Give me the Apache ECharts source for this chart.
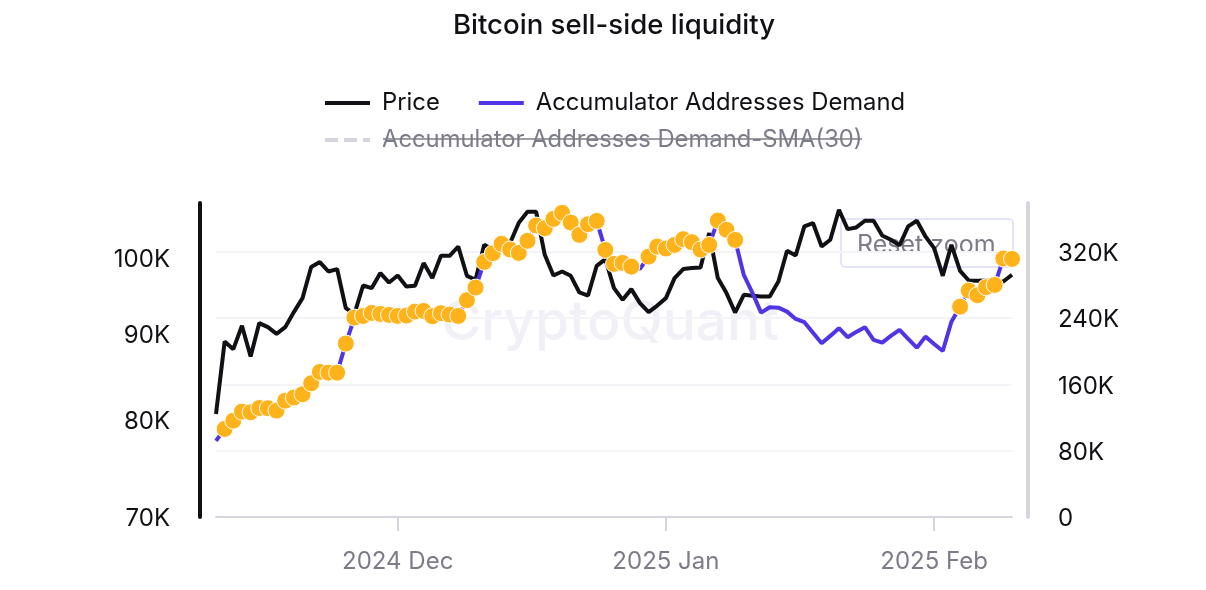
<!DOCTYPE html>
<html>
<head>
<meta charset="utf-8">
<style>
  html, body { margin: 0; padding: 0; background: #fff; }
  #main { width: 1206px; height: 590px; }
</style>
<script src="https://cdn.jsdelivr.net/npm/echarts@6/dist/echarts.min.js"></script>
</head>
<body>
<div id="main"></div>
<script>
// daily closes, thousands of USD, 10 Nov 2024 onwards
var priceK = [
  80.66, 89.10, 88.17, 91.05, 87.28, 91.39, 90.88, 90.05, 90.88, 92.78,
  94.58, 98.71, 99.39, 98.11, 98.44, 93.29, 92.56, 96.24, 95.90, 97.90,
  96.63, 97.57, 96.10, 96.20, 99.25, 97.22, 100.25, 100.25, 101.54, 97.53,
  97.00, 101.78, 101.08, 101.36, 102.07, 104.91, 106.51, 106.51, 100.39, 97.57,
  98.11, 97.53, 95.32, 94.92, 98.88, 99.80, 95.90, 94.36, 95.76, 93.93,
  92.78, 93.62, 94.58, 97.22, 98.44, 98.57, 98.65, 103.44, 97.22, 95.24,
  92.73, 95.01, 94.88, 94.79, 94.79, 96.77, 100.95, 100.30, 104.38, 104.87,
  101.54, 102.49, 106.81, 104.00, 104.24, 105.20, 105.20, 103.09, 102.49, 101.69,
  104.38, 105.20, 102.95, 101.32, 97.53, 101.78, 98.20, 96.90, 96.87, 96.90,
  96.77, 96.77, 97.67
];
var demandK = [
  91.8, 106.3, 116.3, 127.2, 126.4, 131.6, 131.3, 128.4, 140.4, 144.1,
  148.2, 161.4, 175.1, 174.2, 174.2, 209.3, 240.7, 242.7, 246.3, 245.1,
  243.9, 242.7, 243.1, 247.9, 248.7, 242.3, 246.0, 244.3, 242.7, 261.7,
  276.9, 307.9, 318.4, 329.7, 322.8, 318.8, 333.3, 351.8, 348.6, 359.8,
  367.1, 355.4, 340.5, 353.4, 357.4, 322.4, 305.5, 306.7, 302.2, 299.5,
  314.3, 326.4, 324.0, 328.4, 335.3, 331.7, 322.8, 328.4, 357.8, 346.6,
  334.5, 292.2, 270.5, 246.7, 253.2, 252.7, 247.9, 239.1, 235.1, 222.4,
  209.7, 218.6, 227.9, 217.0, 223.4, 229.1, 213.7, 210.5, 218.6, 225.8,
  214.9, 204.4, 217.7, 208.9, 200.4, 235.8, 253.9, 273.3, 267.7, 277.4,
  280.1, 311.9, 311.5
];
// days carrying an orange marker, first and last index of each run
var markedRuns = [[1, 48], [50, 60], [86, 92]];
var leftTicks = [70000, 80000, 90000, 100000];
var monthNames = ['Jan', 'Feb', 'Mar', 'Apr', 'May', 'Jun', 'Jul', 'Aug', 'Sep', 'Oct', 'Nov', 'Dec'];

var dates = [];
for (var d = 0; d < priceK.length; d++) {
  dates.push(new Date(Date.UTC(2024, 10, 10 + d)).toISOString().slice(0, 10));
}

var markers = [];
markedRuns.forEach(function (run) {
  for (var i = run[0]; i <= run[1]; i++) {
    markers.push([dates[i], demandK[i] * 1000]);
  }
});

function isMonthStart(i, val) {
  return val.slice(8) === '01';
}

var FONT = 'Inter';
// nudges the y labels a little below their tick
var yLabelRich = { t: { fontFamily: FONT, fontSize: 24, color: '#111115', padding: [4, 0, 0, 0] } };
var myChart = echarts.init(document.getElementById('main'));

var option = {
  animation: false,
  textStyle: { fontFamily: FONT },
  title: {
    text: 'Bitcoin sell-side liquidity',
    left: 609,
    top: 7,
    textAlign: 'center',
    textStyle: { fontFamily: FONT, fontSize: 27.6, fontWeight: 500, color: '#111115' }
  },
  legend: [
    {
      left: 318,
      top: 86,
      itemWidth: 45,
      itemHeight: 28,
      itemGap: 37,
      selectedMode: false,
      itemStyle: { opacity: 0 },
      lineStyle: { width: 4 },
      textStyle: { fontFamily: FONT, fontSize: 23.8, color: '#111115', padding: [0, 0, 0, 7] },
      data: ['Price', 'Accumulator Addresses Demand']
    },
    {
      left: 318,
      top: 123,
      itemWidth: 45,
      itemHeight: 28,
      selectedMode: false,
      itemStyle: { opacity: 0 },
      lineStyle: { width: 4 },
      textStyle: { fontFamily: FONT, fontSize: 23.8, color: '#7c7c88', padding: [0, 0, 0, 7] },
      data: ['Accumulator Addresses Demand-SMA(30)']
    }
  ],
  grid: { left: 216, right: 194, top: 203, bottom: 73 },
  xAxis: {
    type: 'category',
    boundaryGap: false,
    data: dates,
    axisLine: { lineStyle: { color: '#d5d5dd', width: 2 } },
    axisTick: { interval: isMonthStart, length: 14, lineStyle: { color: '#d5d5dd', width: 2 } },
    axisLabel: {
      interval: isMonthStart,
      margin: 33,
      fontFamily: FONT,
      fontSize: 24,
      color: '#7c7c88',
      formatter: function (val) {
        return val.slice(0, 4) + ' ' + monthNames[parseInt(val.slice(5, 7), 10) - 1];
      }
    }
  },
  yAxis: [
    {
      type: 'log',
      logBase: 10,
      min: 70000,
      max: 107800,
      position: 'left',
      offset: 16,
      axisLine: { show: true, onZero: false, lineStyle: { color: '#111115', width: 4 } },
      axisTick: { show: false },
      splitLine: { show: false },
      axisLabel: {
        margin: 30,
        fontFamily: FONT,
        fontSize: 24,
        color: '#111115',
        customValues: leftTicks,
        rich: yLabelRich,
        formatter: function (v) { return '{t|' + Math.round(v / 1000) + 'K}'; }
      }
    },
    {
      type: 'value',
      min: 0,
      max: 379000,
      interval: 80000,
      position: 'right',
      offset: 16,
      axisLine: { show: true, onZero: false, lineStyle: { color: '#d5d5dd', width: 4 } },
      axisTick: { show: false },
      splitLine: { show: true, showMinLine: false, showMaxLine: false, lineStyle: { color: '#f3f3f8', width: 2 } },
      axisLabel: {
        margin: 30,
        showMaxLabel: false,
        fontFamily: FONT,
        fontSize: 24,
        color: '#111115',
        rich: yLabelRich,
        formatter: function (v) { return '{t|' + (v === 0 ? '0' : (v / 1000) + 'K') + '}'; }
      }
    }
  ],
  graphic: [
    {
      type: 'text',
      left: 441,
      top: 296,
      z: 0,
      silent: true,
      style: { text: 'CryptoQuant', fontFamily: FONT, fontSize: 55, fontWeight: 500, fill: '#f0f0f6' }
    },
    {
      type: 'rect',
      z: 0,
      silent: true,
      shape: { x: 841, y: 219, width: 172, height: 48, r: 4 },
      style: { fill: 'rgba(255,255,255,0)', stroke: '#d9dbff', lineWidth: 1.5 }
    },
    {
      type: 'text',
      left: 857,
      top: 233,
      z: 0,
      silent: true,
      style: { text: 'Reset zoom', fontFamily: FONT, fontSize: 25, fill: '#7c7c88' }
    },
    {
      type: 'line',
      z: 10,
      silent: true,
      shape: { x1: 383, y1: 139, x2: 862, y2: 139 },
      style: { stroke: '#7c7c88', lineWidth: 1.5 }
    }
  ],
  series: [
    {
      name: 'Price',
      type: 'line',
      yAxisIndex: 0,
      symbol: 'none',
      lineStyle: { color: '#111115', width: 4 },
      itemStyle: { color: '#111115' },
      data: priceK.map(function (v) { return v * 1000; }),
      z: 3
    },
    {
      name: 'Accumulator Addresses Demand',
      type: 'line',
      yAxisIndex: 1,
      symbol: 'none',
      lineStyle: { color: '#4f35e6', width: 4 },
      itemStyle: { color: '#4f35e6' },
      data: demandK.map(function (v) { return v * 1000; }),
      z: 4
    },
    {
      // toggled off in the original, only its legend entry shows
      name: 'Accumulator Addresses Demand-SMA(30)',
      type: 'line',
      yAxisIndex: 1,
      symbol: 'none',
      lineStyle: { color: '#d5d5dd', width: 4, type: [13, 6] },
      itemStyle: { color: '#d5d5dd' },
      data: []
    },
    {
      name: 'Marked',
      type: 'scatter',
      yAxisIndex: 1,
      symbolSize: 17,
      itemStyle: { color: '#ffb31a', borderColor: '#ffffff', borderWidth: 1, opacity: 1 },
      data: markers,
      z: 5
    }
  ]
};

myChart.setOption(option);
</script>
</body>
</html>
